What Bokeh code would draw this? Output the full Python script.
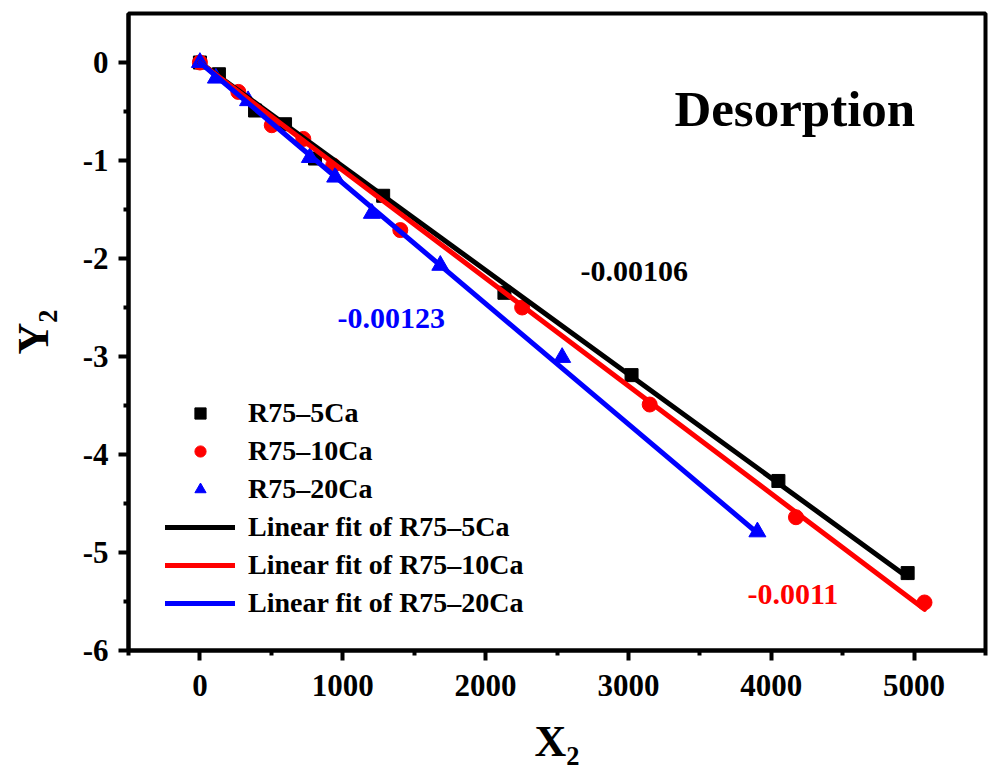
import numpy as np
from bokeh.plotting import figure
from bokeh.models import (Range1d, FixedTicker, Label, Legend, LegendItem)
from bokeh.embed import file_html
from bokeh.resources import INLINE

# ---- data ----
black_x = [0, 133, 386, 596, 806, 1283, 2132, 3022, 4050, 4955]
black_y = [0, -0.12, -0.49, -0.63, -0.98, -1.36, -2.35, -3.19, -4.27, -5.21]
red_x = [0, 269, 503, 724, 933, 1403, 2256, 3149, 4173, 5073]
red_y = [0, -0.30, -0.64, -0.78, -1.05, -1.71, -2.50, -3.49, -4.64, -5.51]
blue_x = [0, 112, 337, 770, 947, 1204, 1683, 2536, 3903]
blue_y = [0, -0.16, -0.39, -0.97, -1.17, -1.54, -2.07, -3.01, -4.79]

series_names = ["R75\u20135Ca", "R75\u201310Ca", "R75\u201320Ca"]
fit_slopes = [-0.00106, -0.0011, -0.00123]
fit_intercepts = [0.0, 0.0, 0.0]
slope_labels = ["-0.00106", "-0.0011", "-0.00123"]

x_ticks = [0, 1000, 2000, 3000, 4000, 5000]
x_minor = [-500, 500, 1500, 2500, 3500, 4500, 5500]
y_ticks = [0, -1, -2, -3, -4, -5, -6]
y_minor = [-0.5, -1.5, -2.5, -3.5, -4.5, -5.5]

FONT = "Liberation Serif"

p = figure(width=989, height=768, output_backend="svg", toolbar_location=None,
           x_range=Range1d(-500, 5500), y_range=Range1d(-6, 0.5),
           min_border_left=128, min_border_right=4, min_border_top=13,
           min_border_bottom=118)
p.background_fill_color = "white"
p.border_fill_color = "white"
p.grid.visible = False
p.outline_line_color = "black"
p.outline_line_width = 4

for ax in (p.xaxis[0], p.yaxis[0]):
    ax.axis_line_width = 4
    ax.major_tick_line_width = 4
    ax.minor_tick_line_width = 4
    ax.major_tick_in = 0
    ax.major_tick_out = 10
    ax.minor_tick_in = 0
    ax.minor_tick_out = 5
    ax.major_label_text_font = FONT
    ax.major_label_text_font_style = "bold"
    ax.major_label_text_font_size = "31px"
    ax.major_label_text_color = "black"
    ax.axis_label_text_font = FONT
    ax.axis_label_text_font_style = "bold"
    ax.axis_label_text_font_size = "44px"
    ax.axis_label_text_color = "black"

p.xaxis.ticker = FixedTicker(ticks=x_ticks, minor_ticks=x_minor)
p.yaxis.ticker = FixedTicker(ticks=y_ticks, minor_ticks=y_minor)
p.xaxis.major_label_overrides = {t: str(t) for t in x_ticks}
p.yaxis.major_label_overrides = {t: ("-%d" % abs(t) if t < 0 else "0") for t in y_ticks}
p.xaxis.major_label_standoff = 14
p.yaxis.major_label_standoff = 10
p.xaxis.axis_label = "X\u2082"
p.yaxis.axis_label = "Y\u2082"
p.xaxis.axis_label_standoff = 18
p.yaxis.axis_label_standoff = 22

# ---- scatters ----
r_b = p.scatter(black_x, black_y, marker="square", size=13, color="black")
r_r = p.scatter(red_x, red_y, marker="circle", size=15, color="red")
r_t = p.scatter(blue_x, blue_y, marker="triangle", size=17, color="blue")

# ---- linear fits ----
colors = ["black", "red", "blue"]
xs_all = [black_x, red_x, blue_x]
fit_renderers = []
for xs, m, b, c in zip(xs_all, fit_slopes, fit_intercepts, colors):
    xx = np.array([min(xs), max(xs)], dtype=float)
    yy = m * xx + b
    fit_renderers.append(p.line(xx, yy, line_width=5, color=c, line_cap="round"))

legend = Legend(items=[
    LegendItem(label=series_names[0], renderers=[r_b]),
    LegendItem(label=series_names[1], renderers=[r_r]),
    LegendItem(label=series_names[2], renderers=[r_t]),
    LegendItem(label="Linear fit of " + series_names[0], renderers=[fit_renderers[0]]),
    LegendItem(label="Linear fit of " + series_names[1], renderers=[fit_renderers[1]]),
    LegendItem(label="Linear fit of " + series_names[2], renderers=[fit_renderers[2]]),
], location=(37, 28))
legend.glyph_width = 70
legend.glyph_height = 28
legend.label_height = 38
legend.spacing = 0
legend.padding = 0
legend.margin = 0
legend.label_standoff = 13
legend.border_line_color = None
legend.background_fill_alpha = 0
legend.label_text_font = FONT
legend.label_text_font_style = "bold"
legend.label_text_font_size = "28px"
legend.label_text_color = "black"
p.add_layout(legend, "center")

def lab(x, y, text, size, color="black", align="left", angle=0.0):
    p.add_layout(Label(x=x, y=y, text=text, text_font=FONT, text_font_style="bold",
                       text_font_size=size, text_color=color, text_align=align,
                       text_baseline="alphabetic", angle=angle))

lab(4165, -0.47, "Desorption", "51px", align="center")
lab(3040, -2.13, slope_labels[0], "30px", "black", "center")
lab(4151, -5.43, slope_labels[1], "30px", "red", "center")
lab(1339, -2.61, slope_labels[2], "30px", "blue", "center")

open("out.html", "w").write(file_html(p, INLINE))
